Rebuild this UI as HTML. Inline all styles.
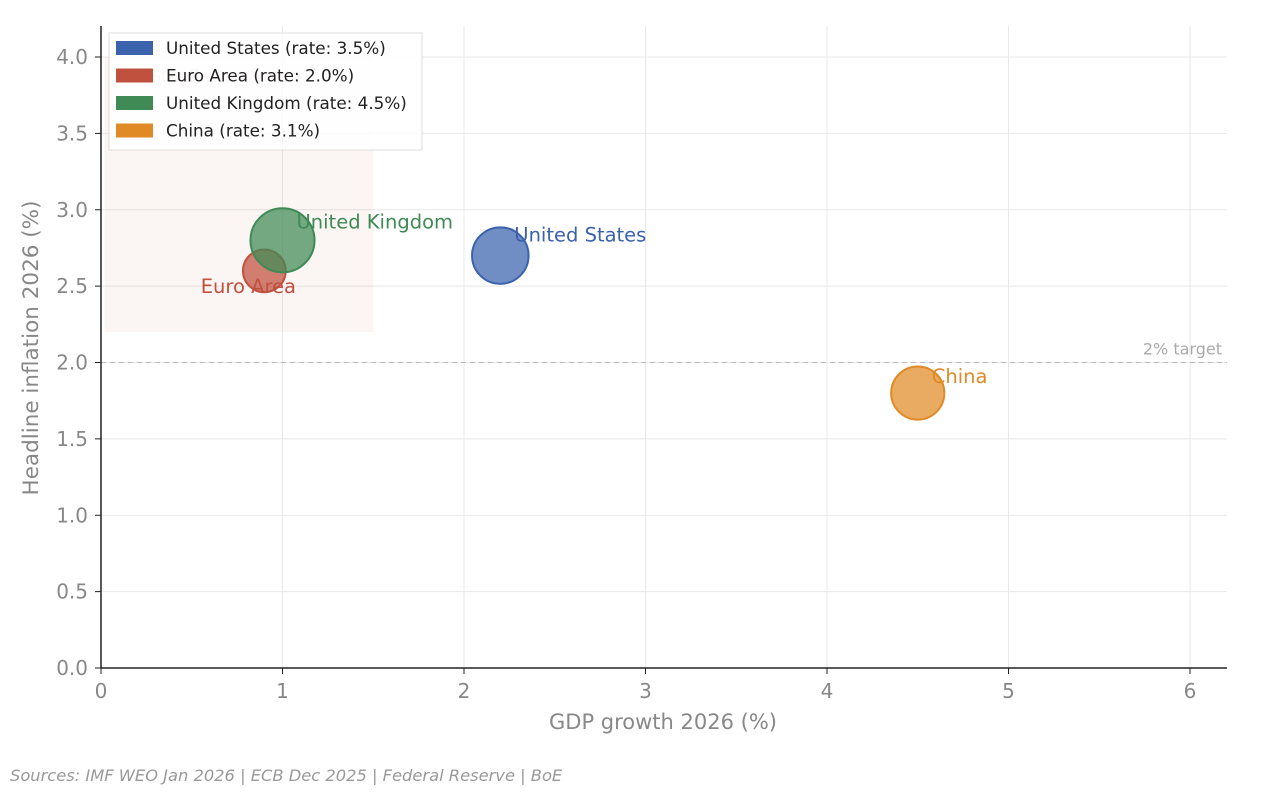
<!DOCTYPE html>
<html><head><meta charset="utf-8"><style>
body{margin:0;background:#fff;font-family:"Liberation Sans","DejaVu Sans",sans-serif}
svg text{font-family:"DejaVu Sans","Liberation Sans",sans-serif}
</style></head><body>
<svg id="chart" width="1270" height="790" xmlns="http://www.w3.org/2000/svg"></svg>
<script>
const countries=["United States","Euro Area","United Kingdom","China"];
const gdp=[2.2,0.9,1.0,4.5];
const inflation=[2.7,2.6,2.8,1.8];
const rates=[3.5,2.0,4.5,3.1];
const colors=["#3a62ad","#c0513f","#3f8a55","#e08a26"];
const xTicks=[0,1,2,3,4,5,6];
const yTicks=[0,0.5,1,1.5,2,2.5,3,3.5,4];
const target=2.0;
const NS="http://www.w3.org/2000/svg";
const svg=document.getElementById('chart');
const X0=101,XS=181.5,Y0=668,YS=152.75;
const xp=v=>X0+v*XS, yp=v=>Y0-v*YS;
function el(t,a,txt){const e=document.createElementNS(NS,t);for(const k in a)e.setAttribute(k,a[k]);if(txt!=null)e.textContent=txt;svg.appendChild(e);return e;}
xTicks.forEach(t=>{const g=el('line',{x1:xp(t),x2:xp(t),y1:26,y2:668,stroke:'#e8e8e8'});

});
yTicks.forEach(t=>{const g=el('line',{x1:101,x2:1227,y1:yp(t),y2:yp(t),stroke:'#e8e8e8'});

});
const z=el('rect',{x:xp(0.02),y:yp(4.0),width:xp(1.5)-xp(0.02),height:yp(2.2)-yp(4.0),fill:'#c0513f','fill-opacity':0.06});


const zt=el('text',{x:150,y:82,fill:'#c0513f','fill-opacity':0.25,'font-size':17},'Stagflation zone');


const tl=el('line',{x1:101,x2:1227,y1:yp(target),y2:yp(target),stroke:'#bbb','stroke-dasharray':'5,4'});


const tt=el('text',{x:1222,y:yp(target)-8,'text-anchor':'end',fill:'#aaa','font-size':16},'2% target');


const ax=el('line',{x1:101,x2:101,y1:26,y2:668,stroke:'#222','stroke-width':1.5});


const ay=el('line',{x1:101,x2:1227,y1:668,y2:668,stroke:'#222','stroke-width':1.5});


xTicks.forEach(t=>{el('line',{x1:xp(t),x2:xp(t),y1:668,y2:674,stroke:'#222'});
const l=el('text',{x:xp(t),y:698,'text-anchor':'middle',fill:'#888','font-size':20},String(t));

});
yTicks.forEach(t=>{el('line',{x1:95,x2:101,y1:yp(t),y2:yp(t),stroke:'#222'});
const l=el('text',{x:88,y:yp(t)+7,'text-anchor':'end',fill:'#888','font-size':20},t.toFixed(1));

});
const xt=el('text',{x:663,y:729,'text-anchor':'middle',fill:'#888','font-size':21},'GDP growth 2026 (%)');


const yt=el('text',{x:38,y:348,'text-anchor':'middle',fill:'#888','font-size':21.5,transform:'rotate(-90 38 348)'},'Headline inflation 2026 (%)');


const lblOff=[[14,-14,'start'],[-16,22,'middle'],[14,-12,'start'],[14,-10,'start']];
countries.forEach((n,i)=>{
 const r=15.1*Math.sqrt(rates[i]);
 const c=el('circle',{cx:xp(gdp[i]),cy:yp(inflation[i]),r:r,fill:colors[i],'fill-opacity':0.72,stroke:colors[i],'stroke-width':2});
 
 
});
countries.forEach((n,i)=>{
 const o=lblOff[i];
 const t=el('text',{x:xp(gdp[i])+o[0],y:yp(inflation[i])+o[1],'text-anchor':o[2],fill:colors[i],'font-size':19.5},n);
 
 
});
const lg=el('rect',{x:109,y:33,width:313,height:117,fill:'#fff','fill-opacity':0.85,stroke:'#ddd'});


countries.forEach((n,i)=>{
 const y=41+i*27.5;
 el('rect',{x:116,y:y,width:37,height:14,fill:colors[i]});
 const t=el('text',{x:166,y:y+13,fill:'#222','font-size':16.8},n+' (rate: '+rates[i].toFixed(1)+'%)');
 
 
});
const s=el('text',{x:10,y:781,fill:'#999','font-size':16.3,'font-style':'italic'},'Sources: IMF WEO Jan 2026 | ECB Dec 2025 | Federal Reserve | BoE');


</script>
</body></html>
